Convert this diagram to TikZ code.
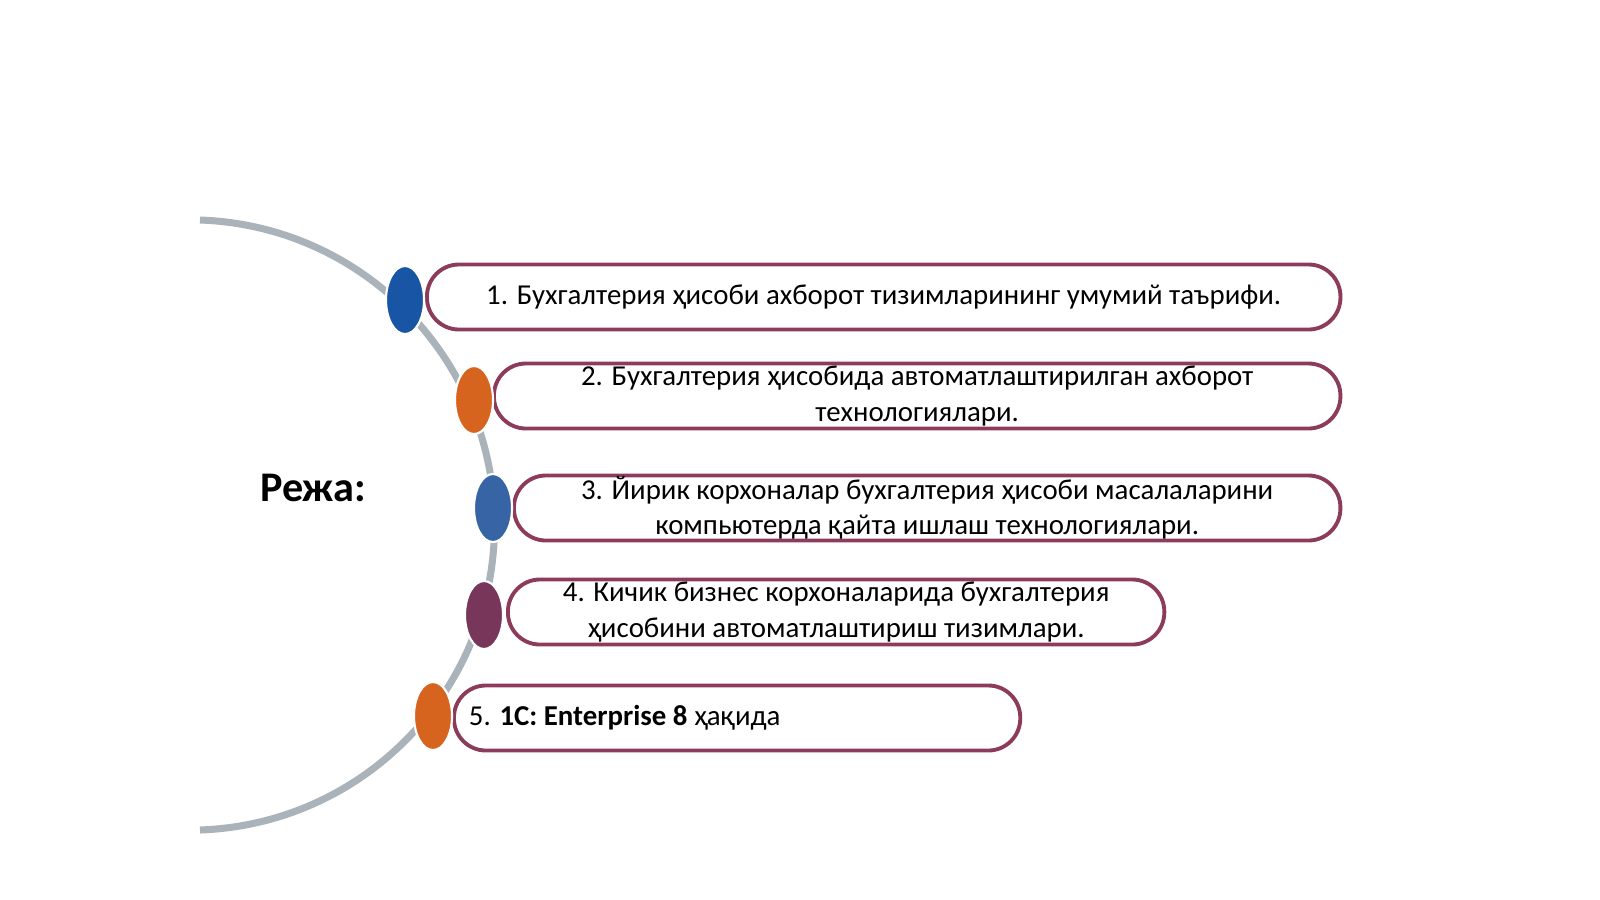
\documentclass[tikz,border=0pt]{standalone}
\usepackage{fontspec}
\setmainfont{Carlito}
\usetikzlibrary{shapes.geometric, positioning, calc}
\definecolor{arcgray}{RGB}{170, 178, 186}
\definecolor{pillrose}{RGB}{140, 60, 90}
\definecolor{dotblue}{RGB}{25, 85, 165}
\definecolor{dotlblue}{RGB}{55, 100, 165}
\definecolor{dotorange}{RGB}{215, 100, 30}
\definecolor{dotpurple}{RGB}{120, 55, 90}

\begin{document}
\begin{tikzpicture}[x=0.01cm, y=-0.01cm,
    pill/.style={draw=pillrose, line width=1.1pt, rounded corners=0.32cm, minimum height=0.65cm, font=\fontsize{8.2}{10}\selectfont, align=center, anchor=west, inner sep=0pt},
    dot/.style={ellipse, draw=white, line width=0.6pt, minimum width=0.38cm, minimum height=0.68cm, inner sep=0pt}
]
    \useasboundingbox (0,0) rectangle (1600,899);
    % arc
    \draw[arcgray, line width=2pt] (200,220) arc[start angle=88, end angle=-88, radius=3.05cm];

    \node[font=\fontsize{12}{14}\selectfont\bfseries] (title) at (313,488) {Режа:};

    \node[pill, minimum width=9.13cm] (p1) at (425,297) {1. Бухгалтерия ҳисоби ахборот тизимларининг умумий таърифи.};
    \node[pill, minimum width=8.46cm] (p2) at (492,396) {2. Бухгалтерия ҳисобида автоматлаштирилган ахборот\\технологиялари.};
    \node[pill, minimum width=8.26cm] (p3) at (512,508) {3. Йирик корхоналар бухгалтерия ҳисоби масалаларини\\компьютерда қайта ишлаш технологиялари.};
    \node[pill, minimum width=6.56cm] (p4) at (506,612) {4. Кичик бизнес корхоналарида бухгалтерия\\ҳисобини автоматлаштириш тизимлари.};
    \node[pill, minimum width=5.66cm, text width=5.36cm, align=flush left, inner xsep=0.15cm] (p5) at (452,718) {5. \textbf{1С: Enterprise 8} ҳақида};

    \node[dot, fill=dotblue] (d1) at (405,300) {};
    \node[dot, fill=dotorange] (d2) at (474,400) {};
    \node[dot, fill=dotlblue] (d3) at (493,508) {};
    \node[dot, fill=dotpurple] (d4) at (484,615) {};
    \node[dot, fill=dotorange] (d5) at (433,716) {};
\end{tikzpicture}
\end{document}
